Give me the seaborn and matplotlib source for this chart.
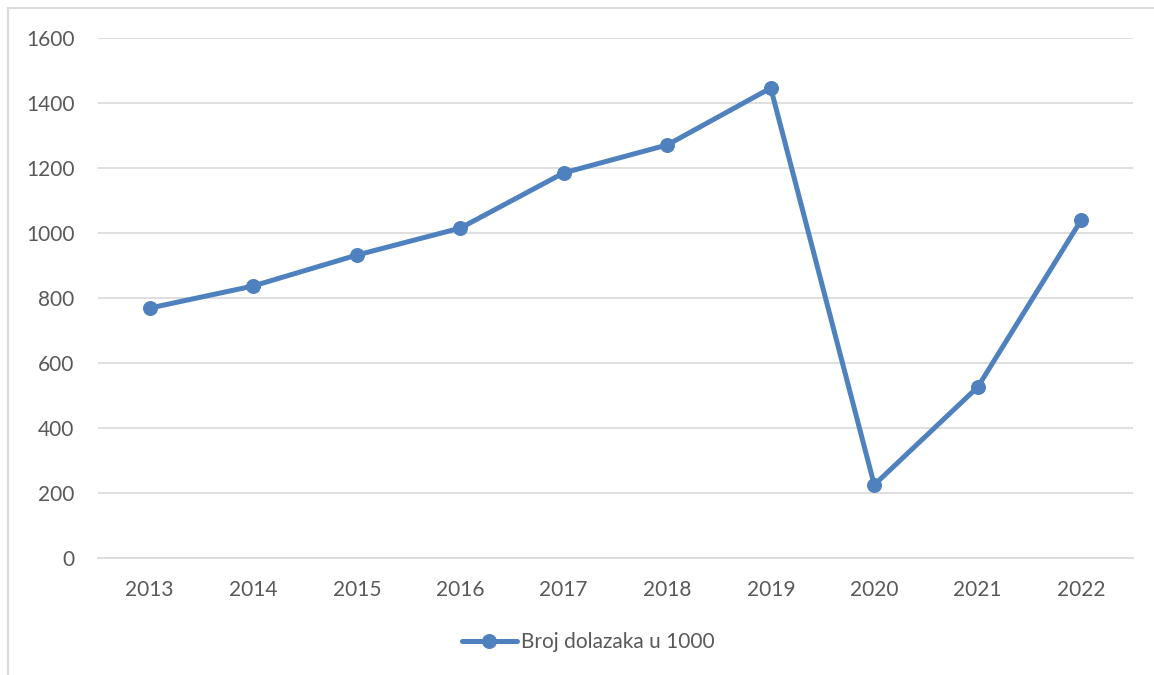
import pandas as pd
import matplotlib.pyplot as plt
import seaborn as sns
from matplotlib.patches import Rectangle

# Podaci
godine = ['2013', '2014', '2015', '2016', '2017', '2018', '2019', '2020', '2021', '2022']
dolasci = [769, 837, 932, 1015, 1185, 1271, 1446, 225, 526, 1040]
naziv = 'Broj dolazaka u 1000'

df = pd.DataFrame({'godina': godine, 'dolasci': dolasci})

sns.set_style('white')
plt.rcParams['font.family'] = ['Lato', 'DejaVu Sans']

boja = '#4E81BD'
siva = '#595959'

fig = plt.figure(figsize=(11.54, 6.75), dpi=100)
ax = fig.add_axes([98 / 1154, 1 - 558 / 675, (1133 - 98) / 1154, (558 - 38) / 675])

sns.lineplot(data=df, x='godina', y='dolasci', ax=ax, color=boja, linewidth=3.6,
             marker='o', markersize=10, markeredgecolor=boja, label=naziv, sort=False)

ax.set_xlim(-0.5, len(godine) - 0.5)
ax.set_ylim(0, 1600)
ax.set_yticks(range(0, 1601, 200))
ax.yaxis.grid(True, color='#D9D9D9', linewidth=1.2)
ax.set_axisbelow(True)
for s in ['top', 'right', 'left']:
    ax.spines[s].set_visible(False)
ax.spines['bottom'].set_color('#D9D9D9')
ax.spines['bottom'].set_linewidth(1.2)
ax.tick_params(axis='both', length=0, labelsize=15, labelcolor=siva)
ax.tick_params(axis='y', pad=17)
ax.tick_params(axis='x', pad=16)
ax.set_xlabel('')
ax.set_ylabel('')

leg = ax.legend(loc='center', bbox_to_anchor=(0.4734, -0.162), frameon=False,
                fontsize=15, handlelength=2.64, handletextpad=0.2)
for t in leg.get_texts():
    t.set_color(siva)

# okvir grafikona
fig.patches.append(Rectangle((8 / 1154, -0.1), 1.2, 1 - 8 / 675 + 0.1, transform=fig.transFigure,
                             fill=False, edgecolor='#D9D9D9', linewidth=1.5))

fig.savefig('out.png', dpi=100)
